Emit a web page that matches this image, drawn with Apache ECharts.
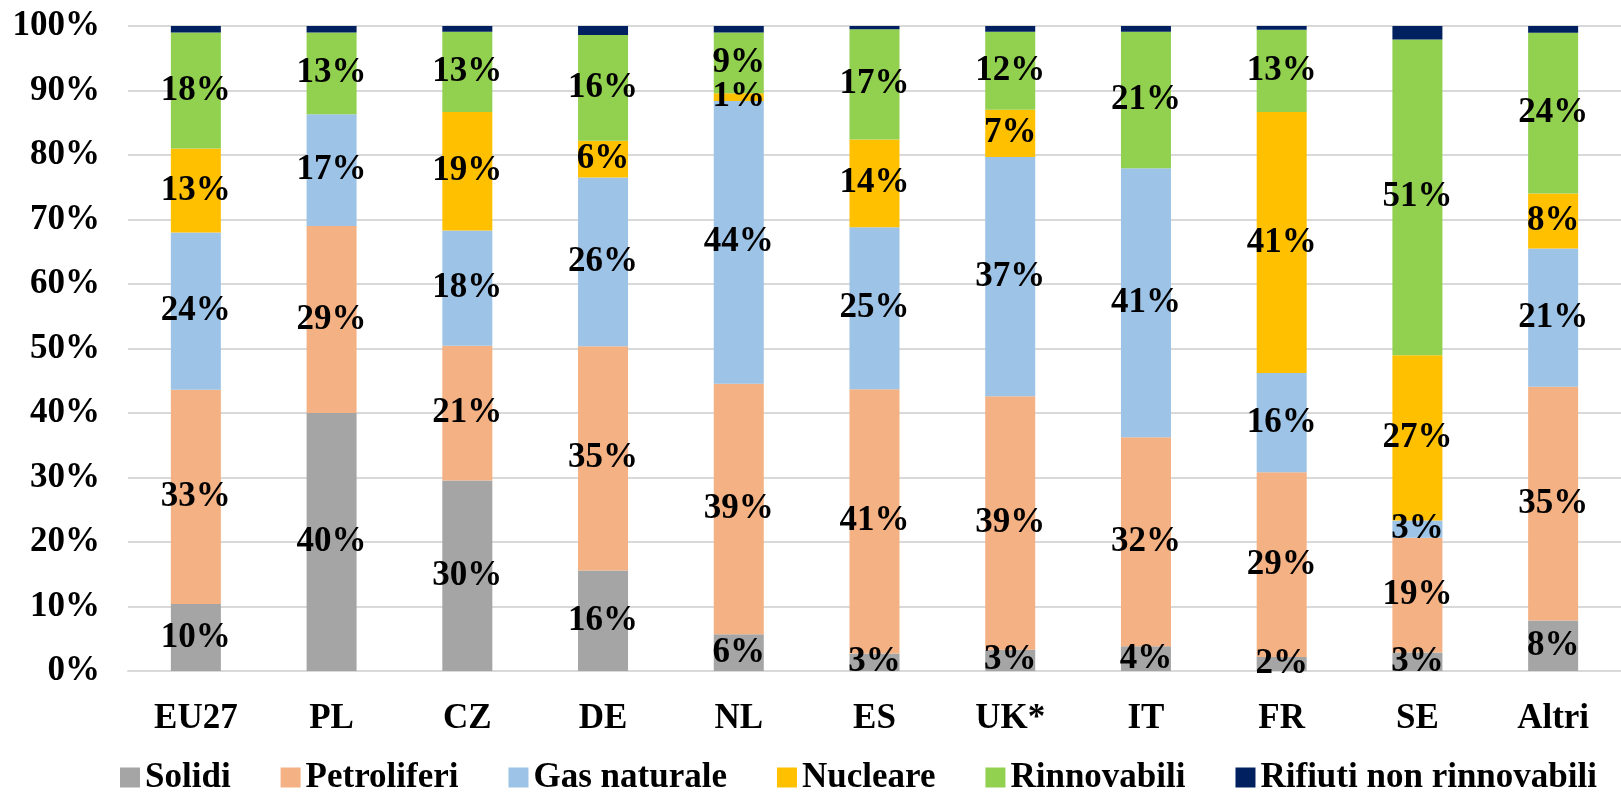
<!DOCTYPE html>
<html>
<head>
<meta charset="utf-8">
<script src="https://cdn.jsdelivr.net/npm/echarts@6/dist/echarts.min.js"></script>
<style>
html,body{margin:0;padding:0;background:#fff;}
#c{width:1621px;height:796px;}
</style>
</head>
<body>
<div id="c"></div>
<script>
const categories = ['EU27','PL','CZ','DE','NL','ES','UK*','IT','FR','SE','Altri'];
const seriesNames = ['Solidi','Petroliferi','Gas naturale','Nucleare','Rinnovabili','Rifiuti non rinnovabili'];
const solidi      = [10.4, 40.0, 29.9, 15.6,  5.7,  2.7,  3.3,  3.8,  2.2,  3.0,  7.6];
const petroliferi = [33.2, 29.0, 21.2, 34.8, 38.8, 41.0, 39.3, 32.2, 29.0, 18.6, 35.2];
const gasNaturale = [24.4, 17.3, 18.1, 26.2, 43.8, 25.1, 37.1, 41.4, 15.6,  2.8, 20.8];
const nucleare    = [13.0,  0.0, 18.6,  5.7,  1.2, 13.6,  7.3,  0.0, 41.0, 26.8,  8.3];
const rinnovabili = [18.0, 12.7, 12.6, 16.4,  9.4, 17.1, 12.1, 21.0, 12.9, 51.2, 24.2];
const rifiuti     = [ 1.0,  1.0,  0.9,  1.4,  1.0,  0.5,  0.9,  0.9,  0.6,  2.2,  1.0];
const yTicks = [0,10,20,30,40,50,60,70,80,90,100];
const colors = ['#A5A5A5','#F4B183','#9DC3E6','#FFC000','#92D050','#002060'];

const raw = [solidi, petroliferi, gasNaturale, nucleare, rinnovabili, rifiuti];
const totals = categories.map((_, i) => raw.reduce((s, arr) => s + arr[i], 0));
const FONT = '"Liberation Serif", "Times New Roman", serif';
const FS = 35;

const series = raw.map((arr, si) => ({
  name: seriesNames[si],
  type: 'bar',
  stack: 'total',
  barWidth: 50,
  itemStyle: { color: colors[si] },
  data: arr.map((v, i) => v / totals[i] * 100),
  label: {
    show: si < 5,
    position: 'inside',
    color: '#000',
    fontFamily: FONT,
    fontWeight: 'bold',
    fontSize: FS,
    formatter: p => {
      const r = arr[p.dataIndex];
      return r >= 0.5 ? Math.round(r) + '%' : '';
    }
  },
  emphasis: { disabled: true }
}));

const chart = echarts.init(document.getElementById('c'), null, { renderer: 'canvas' });
chart.setOption({
  animation: false,
  backgroundColor: '#fff',
  color: colors,
  grid: { left: 128, right: 0, top: 26, bottom: 125, containLabel: false },
  legend: {
    top: 760,
    left: 120,
    width: 1501,
    padding: 0,
    icon: 'rect',
    itemWidth: 20,
    itemHeight: 20,
    itemGap: 50,
    textStyle: { fontFamily: FONT, fontWeight: 'bold', fontSize: FS, color: '#000' },
    data: seriesNames
  },
  xAxis: {
    type: 'category',
    data: categories,
    axisLine: { show: true, lineStyle: { color: '#D9D9D9', width: 2 } },
    axisTick: { show: false },
    axisLabel: { fontFamily: FONT, fontWeight: 'bold', fontSize: FS, color: '#000', margin: 30 }
  },
  yAxis: {
    type: 'value',
    min: yTicks[0],
    max: yTicks[yTicks.length - 1],
    interval: 10,
    axisLine: { show: false },
    axisTick: { show: false },
    splitLine: { lineStyle: { color: '#D9D9D9', width: 2 } },
    axisLabel: { fontFamily: FONT, fontWeight: 'bold', fontSize: FS, color: '#000', margin: 28, formatter: '{value}%' }
  },
  series: series
});
</script>
</body>
</html>
